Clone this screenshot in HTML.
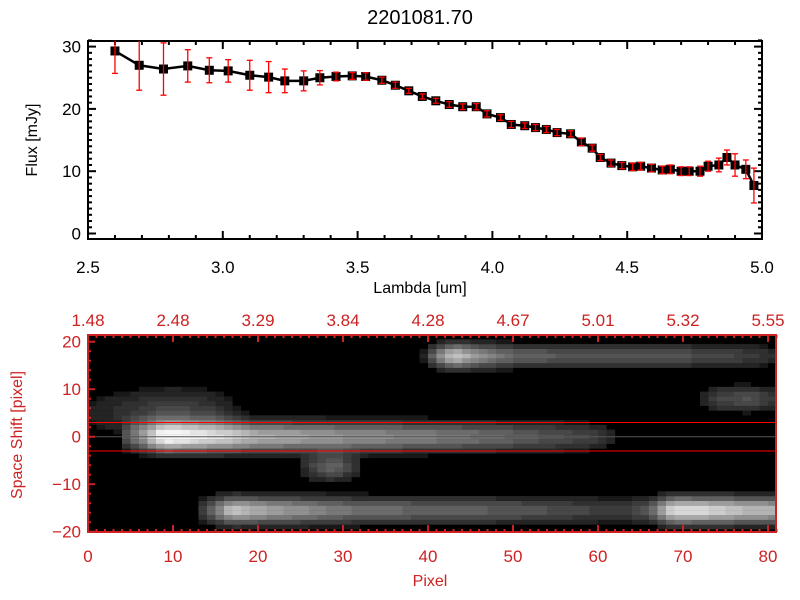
<!DOCTYPE html>
<html><head><meta charset="utf-8"><style>
body{margin:0;background:#fff}
svg{display:block;font-family:"Liberation Sans",sans-serif}
</style></head><body>
<svg id="s" width="800" height="600" viewBox="0 0 800 600">
<rect width="800" height="600" fill="#fff"/>
<text x="420" y="24" font-size="20" text-anchor="middle">2201081.70</text>
<g id="topG"></g>
<g id="botG"></g>
<text x="420" y="293" font-size="16" text-anchor="middle">Lambda [um]</text>
<text transform="translate(37,140) rotate(-90)" font-size="16" text-anchor="middle">Flux [mJy]</text>
<text transform="translate(22,435) rotate(-90)" font-size="16" fill="#cc2222" text-anchor="middle">Space Shift [pixel]</text>
<text x="430" y="586" font-size="16" fill="#cc2222" text-anchor="middle">Pixel</text>
</svg>
<script>
const lambda=[2.60,2.69,2.78,2.87,2.95,3.02,3.10,3.17,3.23,3.30,3.36,3.42,3.48,3.53,3.59,3.64,3.69,3.74,3.79,3.84,3.89,3.94,3.98,4.03,4.07,4.12,4.16,4.20,4.24,4.29,4.33,4.37,4.40,4.44,4.48,4.52,4.55,4.59,4.63,4.66,4.70,4.73,4.77,4.80,4.84,4.87,4.90,4.94,4.97];
const flux=[29.3,27.0,26.4,26.9,26.2,26.1,25.4,25.1,24.5,24.5,25.0,25.2,25.3,25.2,24.6,23.8,22.9,22.0,21.3,20.7,20.35,20.35,19.2,18.6,17.5,17.3,17.0,16.7,16.2,16.0,14.7,13.7,12.2,11.3,10.9,10.7,10.8,10.5,10.2,10.3,10.0,10.0,10.0,10.8,11.0,12.2,11.0,10.3,7.7];
const fluxErr=[3.6,4.0,4.2,2.6,2.0,1.8,2.4,2.5,1.9,1.6,1.15,0.7,0.55,0.6,0.5,0.5,0.4,0.4,0.4,0.45,0.45,0.5,0.5,0.45,0.5,0.45,0.5,0.5,0.5,0.5,0.6,0.5,0.5,0.5,0.5,0.6,0.6,0.6,0.6,0.7,0.7,0.7,0.8,0.8,1.1,1.2,1.8,1.5,2.8];
const xTickLabels=["2.5","3.0","3.5","4.0","4.5","5.0"];
const xTickVals=[2.5,3.0,3.5,4.0,4.5,5.0];
const yTickVals=[0,10,20,30];
const pixTickVals=[0,10,20,30,40,50,60,70,80];
const lamTickLabels=["1.48","2.48","3.29","3.84","4.28","4.67","5.01","5.32","5.55"];
const shiftTickVals=[-20,-10,0,10,20];
const streakY=[0,-15.5,17,5,-6.5,8];
const streakW=[2.2,2.0,1.8,4,2,2];
const streakX=[[4,7,9,12,20,30,40,50,60,64],[12,15,17,20,30,40,50,58,63,66,69,72,77,81],[39,41,43,46,50,60,70,78,81],[0,5,10,15,20],[24,27,29,31,33],[71,74,78,81]];
const streakA=[[40,150,240,220,180,150,130,100,60,0],[0,120,200,170,120,100,90,70,60,90,230,220,190,180],[0,120,200,150,100,80,80,60,40],[30,50,70,50,0],[0,80,100,60,0],[0,70,80,50]];

const NS="http://www.w3.org/2000/svg";
function mk(p,t,a){const e=document.createElementNS(NS,t);for(const k in a)e.setAttribute(k,a[k]);p.appendChild(e);return e;}
const topG=document.getElementById('topG'),botG=document.getElementById('botG');
const L=88,R=762,T=41,B=239;
const xS=l=>L+(l-2.5)*269.6, yS=f=>233.5-f*6.23;
let e;
e=mk(topG,'rect',{x:L,y:T,width:R-L,height:B-T,fill:'none',stroke:'#000','stroke-width':2});


for(let i=0;i<=25;i++){const l=2.5+i*0.1,x=xS(l),len=(i%5==0)?8:4;
 mk(topG,'line',{x1:x,y1:B,x2:x,y2:B-len,stroke:'#000','stroke-width':2});
 mk(topG,'line',{x1:x,y1:T,x2:x,y2:T+len,stroke:'#000','stroke-width':2});}
for(let v=0;v<=31;v++){const y=yS(v),len=(v%10==0)?8:4;
 mk(topG,'line',{x1:L,y1:y,x2:L+len,y2:y,stroke:'#000','stroke-width':2});
 mk(topG,'line',{x1:R,y1:y,x2:R-len,y2:y,stroke:'#000','stroke-width':2});}
xTickVals.forEach((v,i)=>{e=mk(topG,'text',{x:xS(v),y:273,'font-size':17,'text-anchor':'middle'});e.textContent=xTickLabels[i];
 
 });
yTickVals.forEach(v=>{e=mk(topG,'text',{x:81,y:yS(v)+6,'font-size':17,'text-anchor':'end'});e.textContent=v;
 
 });
e=mk(topG,'polyline',{points:lambda.map((l,i)=>xS(l)+','+yS(flux[i])).join(' '),fill:'none',stroke:'#000','stroke-width':2.5});


lambda.forEach((l,i)=>{e=mk(topG,'rect',{x:xS(l)-4.5,y:yS(flux[i])-4.5,width:9,height:9,fill:'#000'});
 
 });
lambda.forEach((l,i)=>{const x=xS(l),y1=Math.max(T,yS(flux[i]+fluxErr[i])),y2=Math.min(B,yS(flux[i]-fluxErr[i]));
 const g=mk(topG,'g',{stroke:'#ff0000','stroke-width':1.3});
 
 
 mk(g,'line',{x1:x,y1:y1,x2:x,y2:y2});
 if(y1>T)mk(g,'line',{x1:x-3,y1:y1,x2:x+3,y2:y1});
 mk(g,'line',{x1:x-3,y1:y2,x2:x+3,y2:y2});});

const BL=88,BR=776,BT=335,BB=532;
const xP=p=>BL+p*8.5, yP=s=>436.7-s*4.75;
e=mk(botG,'rect',{x:BL,y:BT,width:BR-BL,height:BB-BT,fill:'#000'});


function interp(xs,as,x){if(x<xs[0]||x>xs[xs.length-1])return 0;for(let i=0;i<xs.length-1;i++){if(x>=xs[i]&&x<=xs[i+1]){const t=(x-xs[i])/(xs[i+1]-xs[i]);return as[i]+(as[i+1]-as[i])*t;}}return 0;}
const cells=mk(botG,'g',{});


for(let p=0;p<81;p++){for(let s=-20;s<=21;s++){
 let v=0;for(let k=0;k<streakY.length;k++){const a=interp(streakX[k],streakA[k],p+0.5);const d=(s-streakY[k])/streakW[k];v+=a*Math.exp(-0.5*d*d);}
 if(v<25)continue;v=Math.min(245,Math.round(v/12)*12);
 const y0=Math.max(BT,yP(s+0.5)),y1=Math.min(BB,yP(s-0.5));
 e=mk(cells,'rect',{x:xP(p),y:y0,width:8.6,height:y1-y0+0.1,fill:`rgb(${v},${v},${v})`});
 
 }}
mk(botG,'line',{x1:BL,y1:yP(3),x2:BR,y2:yP(3),stroke:'#ff0000','stroke-width':1});
mk(botG,'line',{x1:BL,y1:yP(-3),x2:BR,y2:yP(-3),stroke:'#ff0000','stroke-width':1});
mk(botG,'line',{x1:BL,y1:yP(0),x2:BR,y2:yP(0),stroke:'#555','stroke-width':1});
const RC='#cc2222';
e=mk(botG,'rect',{x:BL,y:BT,width:BR-BL,height:BB-BT,fill:'none',stroke:RC,'stroke-width':2});


for(let p=0;p<=81;p++){const x=xP(p),len=(p%10==0)?7:3;
 mk(botG,'line',{x1:x,y1:BB,x2:x,y2:BB-len,stroke:RC,'stroke-width':2});
 mk(botG,'line',{x1:x,y1:BT,x2:x,y2:BT+len,stroke:RC,'stroke-width':2});}
for(let s=-20;s<=20;s+=2){const y=yP(s),len=(s%10==0)?7:3;
 mk(botG,'line',{x1:BL,y1:y,x2:BL+len,y2:y,stroke:RC,'stroke-width':2});}
pixTickVals.forEach((v,i)=>{e=mk(botG,'text',{x:xP(v),y:562,'font-size':17,fill:RC,'text-anchor':'middle'});e.textContent=v;
 
 
 e=mk(botG,'text',{x:xP(v),y:326,'font-size':17,fill:RC,'text-anchor':'middle'});e.textContent=lamTickLabels[i];
 
 });
shiftTickVals.forEach(v=>{e=mk(botG,'text',{x:81,y:yP(v)+6,'font-size':17,fill:RC,'text-anchor':'end'});e.textContent=(v<0?'\u2212'+(-v):v);
 
 });
</script>
</body></html>
